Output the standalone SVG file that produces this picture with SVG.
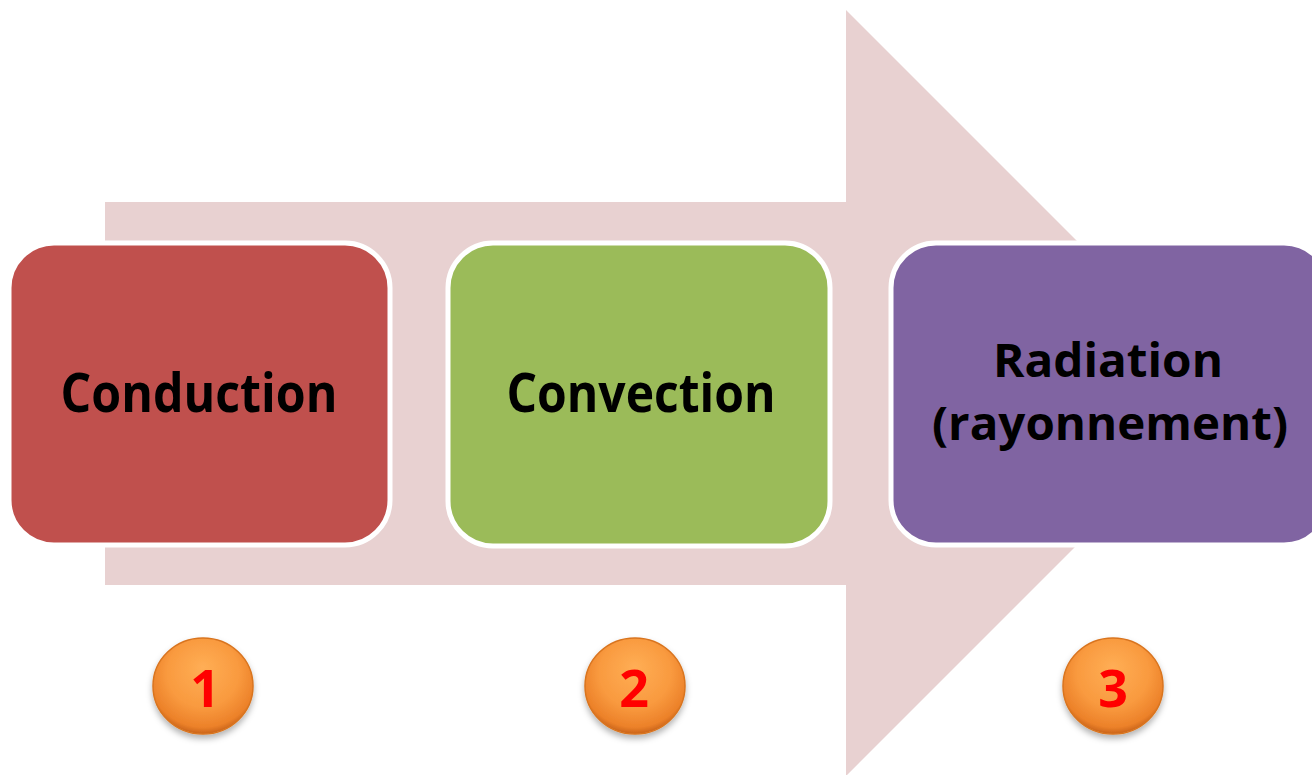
<svg xmlns="http://www.w3.org/2000/svg" width="1312" height="775" viewBox="0 0 1312 775">
  <defs>
    <style>
      .box { stroke: #ffffff; stroke-width: 5; }
      .label { font-family: "Open Sans", "Noto Sans", "DejaVu Sans", sans-serif; font-weight: bold; font-size: 53px; fill: #000000; text-anchor: middle; }
      .label-sm { font-size: 47px; }
      .num { font-family: "Open Sans", "Noto Sans", "DejaVu Sans", sans-serif; font-weight: bold; font-size: 52px; fill: #ff0000; text-anchor: middle; }
      .badge { fill: url(#orange); stroke: #d9741f; stroke-width: 1.5; }
    </style>
    <radialGradient id="orange" cx="50%" cy="40%" r="60%" fx="50%" fy="30%">
      <stop offset="0" stop-color="#ffae55"/>
      <stop offset="0.6" stop-color="#f99a3f"/>
      <stop offset="0.9" stop-color="#ec8129"/>
      <stop offset="1" stop-color="#c9631a"/>
    </radialGradient>
    <filter id="shadow" x="-30%" y="-30%" width="160%" height="170%">
      <feDropShadow dx="0" dy="4" stdDeviation="3" flood-color="#000000" flood-opacity="0.3"/>
    </filter>
  </defs>

  <rect x="0" y="0" width="1312" height="775" fill="#ffffff"/>

  <g id="connectors">
    <polygon id="big-arrow" points="105,202 846,202 846,10 1229,393 846,776 846,585 105,585" fill="#e8d1d1"/>
  </g>

  <g id="node-conduction">
    <rect class="box" x="9" y="243" width="381" height="302" rx="45" ry="45" fill="#c0504d"/>
    <text class="label" x="199" y="412" textLength="277" lengthAdjust="spacingAndGlyphs">Conduction</text>
  </g>

  <g id="node-convection">
    <rect class="box" x="448" y="243" width="382" height="303" rx="45" ry="45" fill="#9bbb59"/>
    <text class="label" x="641" y="412" textLength="269" lengthAdjust="spacingAndGlyphs">Convection</text>
  </g>

  <g id="node-radiation">
    <rect class="box" x="891" y="243" width="438" height="302" rx="45" ry="45" fill="#8064a2"/>
    <text class="label label-sm" x="1108" y="377" textLength="230" lengthAdjust="spacingAndGlyphs">Radiation</text>
    <text class="label label-sm" x="1110" y="440" textLength="356" lengthAdjust="spacingAndGlyphs">(rayonnement)</text>
  </g>

  <g id="badge-1">
    <ellipse class="badge" cx="203" cy="686" rx="50" ry="48" filter="url(#shadow)"/>
    <text class="num" x="205" y="707">1</text>
  </g>

  <g id="badge-2">
    <ellipse class="badge" cx="635" cy="686" rx="50" ry="48" filter="url(#shadow)"/>
    <text class="num" x="634" y="707">2</text>
  </g>

  <g id="badge-3">
    <ellipse class="badge" cx="1113" cy="686" rx="50" ry="48" filter="url(#shadow)"/>
    <text class="num" x="1113" y="707">3</text>
  </g>
</svg>
